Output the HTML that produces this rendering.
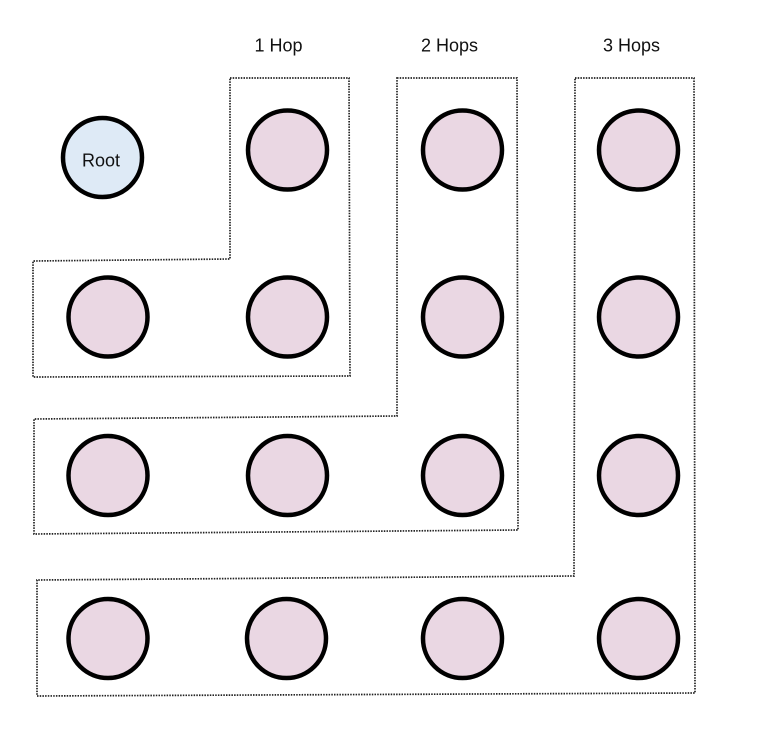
<!DOCTYPE html>
<html lang="en">
<head>
<meta charset="utf-8">
<title>Hop diagram</title>
<style>
html,body{margin:0;padding:0;background:#fff;width:768px;height:752px;overflow:hidden}
svg{display:block}
text{font-family:"Liberation Sans","DejaVu Sans",sans-serif;font-size:18px;fill:#111}
.node{fill:#ead7e3;stroke:#000;stroke-width:4.5}
.root{fill:#deeaf6;stroke:#000;stroke-width:4.5}
.region{fill:none;stroke:#222;stroke-width:1.7;stroke-dasharray:1.5 1.2}
</style>
</head>
<body>
<svg width="768" height="752" viewBox="0 0 768 752">
  <text x="278.500" y="51.500" text-anchor="middle">1 Hop</text>
  <text x="449.500" y="51.500" text-anchor="middle">2 Hops</text>
  <text x="631.500" y="51.500" text-anchor="middle">3 Hops</text>

  <polygon class="region" points="230,78 349,78 350,376 33,377 33,261 230,259"/>
  <polygon class="region" points="397,78 517,78 518,530 34,534 34,419 397,416"/>
  <polygon class="region" points="575,78 694,78 695,693 37,696 37,580 574,576"/>

  <circle class="root" cx="102.500" cy="157.500" r="39.500"/>
  <text x="101" y="166.500" text-anchor="middle">Root</text>

  <circle class="node" cx="287.500" cy="150" r="39.500"/>
  <circle class="node" cx="108" cy="317" r="39.500"/>
  <circle class="node" cx="287.500" cy="317" r="39.500"/>

  <circle class="node" cx="462.500" cy="150" r="39.500"/>
  <circle class="node" cx="462.500" cy="317" r="39.500"/>
  <circle class="node" cx="108" cy="475.500" r="39.500"/>
  <circle class="node" cx="287.500" cy="475.500" r="39.500"/>
  <circle class="node" cx="462.500" cy="475.500" r="39.500"/>

  <circle class="node" cx="638.500" cy="150" r="39.500"/>
  <circle class="node" cx="638.500" cy="317" r="39.500"/>
  <circle class="node" cx="638.500" cy="475.500" r="39.500"/>
  <circle class="node" cx="108" cy="638.500" r="39.500"/>
  <circle class="node" cx="286.500" cy="638.500" r="39.500"/>
  <circle class="node" cx="462.500" cy="638.500" r="39.500"/>
  <circle class="node" cx="638.500" cy="638.500" r="39.500"/>
</svg>
</body>
</html>
